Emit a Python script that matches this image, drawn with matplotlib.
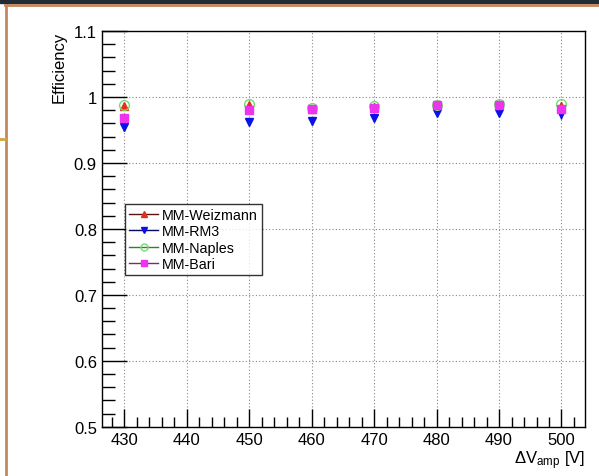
import numpy as np
import matplotlib
matplotlib.use("Agg")
import matplotlib.pyplot as plt
from matplotlib.lines import Line2D
from matplotlib.patches import Rectangle

plt.rcParams['font.family'] = ['Liberation Sans', 'DejaVu Sans']
plt.rcParams['mathtext.default'] = 'regular'

# data
hv = [430, 450, 460, 470, 480, 490, 500]
eff_weiz = [0.987, 0.988, 0.982, 0.985, 0.988, 0.988, 0.986]
err_weiz = [0.004, 0.004, 0.004, 0.004, 0.003, 0.003, 0.004]
eff_rm3 = [0.954, 0.962, 0.964, 0.968, 0.975, 0.975, 0.974]
err_rm3 = [0.006, 0.005, 0.006, 0.004, 0.003, 0.003, 0.007]
eff_nap = [0.988, 0.989, 0.984, 0.987, 0.988, 0.989, 0.990]
err_nap = [0.003, 0.003, 0.003, 0.003, 0.003, 0.003, 0.003]
eff_bari = [0.968, 0.980, 0.982, 0.983, 0.988, 0.988, 0.982]
err_bari = [0.004, 0.004, 0.004, 0.004, 0.003, 0.003, 0.005]

fig = plt.figure(figsize=(5.99, 4.77), dpi=100)
ax = fig.add_axes([0.170, 0.103, 0.807, 0.830])

# frame decorations of the screenshot
fig.patches.append(Rectangle((0, 1 - 4/477), 1, 4/477, transform=fig.transFigure,
                             color='#1f2b35', zorder=0))
fig.lines.append(Line2D([5/599, 1], [1 - 6/477, 1 - 6/477], transform=fig.transFigure,
                        color='#c4875c', lw=2))
fig.lines.append(Line2D([6/599, 6/599], [0, 1 - 6/477], transform=fig.transFigure,
                        color='#c4875c', lw=2))
fig.lines.append(Line2D([0, 5/599], [1 - 140/477, 1 - 140/477], transform=fig.transFigure,
                        color='#d1a640', lw=2))

series = [
    ('MM-Weizmann', eff_weiz, err_weiz, '^', '#e0301e', '#e0301e', '#5a1410', 6),
    ('MM-RM3', eff_rm3, err_rm3, 'v', '#0a10e8', '#0a10e8', '#0a0a60', 6),
    ('MM-Naples', eff_nap, err_nap, 'o', '#6ee06a', 'none', '#3a7a38', 7),
    ('MM-Bari', eff_bari, err_bari, 's', '#ee33ee', '#ee33ee', '#7a287a', 6),
]
handles = []
for name, y, e, m, c, fc, lc, ms in series:
    ax.errorbar(hv, y, yerr=e, fmt=m, color=c, mfc=fc, mec=c, ms=ms,
                ecolor='black', elinewidth=1, capsize=0, zorder=3)
    handles.append(Line2D([], [], color=lc, lw=1, marker=m, ms=5,
                          mfc=fc, mec=c, label=name))

ax.set_xlim(426.4, 503.8)
ax.set_ylim(0.5, 1.1)
ax.set_xticks(np.arange(430, 501, 10))
ax.set_xticks(np.arange(428, 504, 2), minor=True)
ax.set_yticks(np.arange(0.5, 1.101, 0.1))
ax.set_yticks(np.arange(0.5, 1.101, 0.02), minor=True)
ax.set_yticklabels(['0.5', '0.6', '0.7', '0.8', '0.9', '1', '1.1'])
ax.tick_params(which='both', direction='in', labelsize=12, width=1, top=False, right=False)
ax.tick_params(which='major', axis='y', length=18)
ax.tick_params(which='minor', axis='y', length=9)
ax.tick_params(which='major', axis='x', length=13)
ax.tick_params(which='minor', axis='x', length=7)
ax.grid(True, which='major', color='#888888', ls=(0, (1, 2)), lw=0.8)
for s in ax.spines.values():
    s.set_linewidth(1)

ax.set_ylabel('Efficiency', fontsize=12, loc='top', labelpad=5)
ax.set_xlabel('ΔV$_{amp}$ [V]', fontsize=12, loc='right', labelpad=1)

leg = ax.legend(handles=handles, loc='upper left', bbox_to_anchor=(0.048, 0.563),
                fontsize=10.3, frameon=True, fancybox=False, edgecolor='black',
                borderpad=0.3, labelspacing=0.15, handlelength=2.0, handletextpad=0.3,
                borderaxespad=0)
leg.get_frame().set_linewidth(1)

fig.savefig('out.png', dpi=100)
